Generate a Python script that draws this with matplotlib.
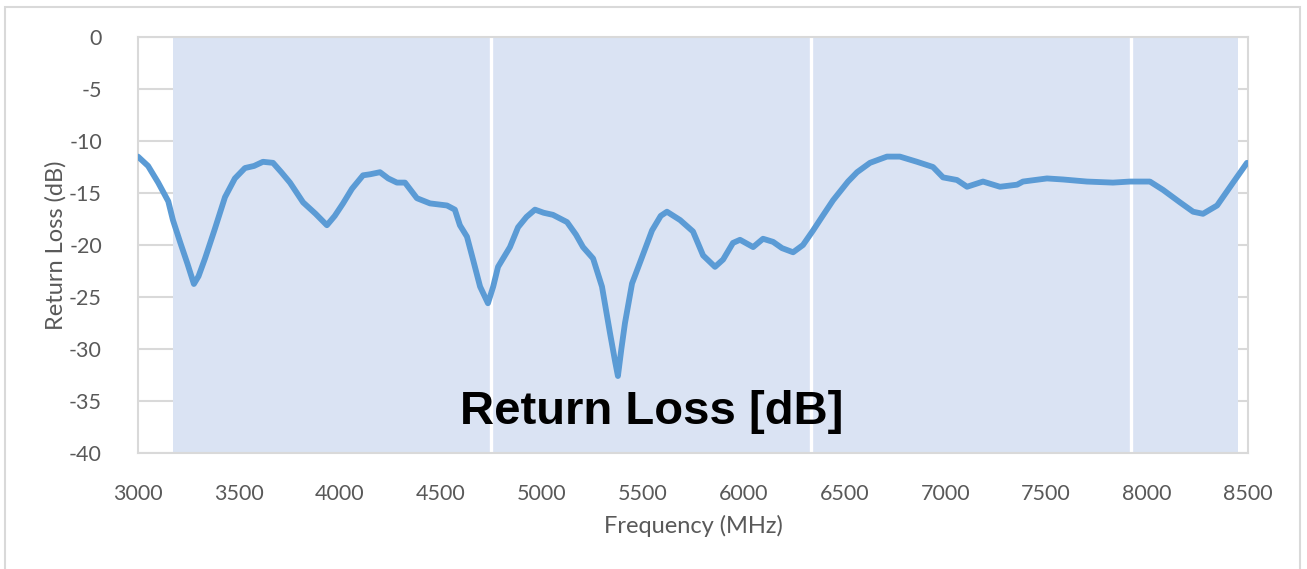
import matplotlib.pyplot as plt
from matplotlib.patches import Rectangle

# frequency (MHz) and return loss (dB)
freq = [3000, 3050, 3100, 3150, 3173, 3210, 3245, 3277, 3300, 3332, 3380,
        3431, 3480, 3530, 3575, 3619, 3669, 3710, 3753, 3818, 3880, 3936,
        3975, 4016, 4060, 4115, 4150, 4199, 4240, 4283, 4323, 4382, 4447,
        4531, 4570, 4595, 4630, 4660, 4695, 4734, 4760, 4784, 4843, 4883,
        4925, 4967, 5010, 5056, 5126, 5170, 5205, 5255, 5299, 5339, 5365,
        5378, 5395, 5413, 5448, 5487, 5547, 5590, 5621, 5686, 5750, 5800,
        5859, 5899, 5948, 5983, 6048, 6097, 6147, 6191, 6246, 6295, 6345,
        6389, 6444, 6518, 6563, 6627, 6711, 6775, 6860, 6939, 6989, 7058,
        7108, 7187, 7271, 7356, 7385, 7504, 7583, 7702, 7831, 7915, 8014,
        8079, 8163, 8228, 8277, 8347, 8426, 8495]
rl = [-11.5, -12.4, -14.0, -15.8, -17.6, -19.8, -21.8, -23.75, -23.0, -21.3,
      -18.5, -15.4, -13.6, -12.6, -12.4, -12.0, -12.1, -13.0, -14.0, -15.9,
      -17.0, -18.1, -17.2, -16.0, -14.6, -13.3, -13.2, -13.0, -13.6, -14.0,
      -14.0, -15.5, -16.0, -16.2, -16.6, -18.1, -19.2, -21.4, -24.0, -25.6,
      -24.0, -22.1, -20.2, -18.3, -17.3, -16.6, -16.9, -17.1, -17.8, -19.0,
      -20.2, -21.3, -24.0, -28.5, -31.3, -32.6, -30.0, -27.5, -23.7, -21.7,
      -18.6, -17.2, -16.8, -17.6, -18.7, -21.0, -22.1, -21.4, -19.8, -19.5,
      -20.2, -19.4, -19.7, -20.3, -20.7, -20.0, -18.6, -17.3, -15.7, -13.9,
      -13.0, -12.1, -11.5, -11.5, -12.0, -12.5, -13.5, -13.75, -14.4, -13.9,
      -14.4, -14.2, -13.9, -13.6, -13.7, -13.9, -14.0, -13.9, -13.9, -14.7,
      -15.9, -16.8, -17.0, -16.2, -14.0, -12.1]

band_start = 3173
band_end = 8450
band_edges = [4749, 6335, 7920]

xticks = list(range(3000, 8501, 500))
yticks = list(range(-40, 1, 5))

plt.rcParams['font.family'] = ['Lato', 'DejaVu Sans']
plt.rcParams['axes.unicode_minus'] = False

fig = plt.figure(figsize=(13.07, 5.69), dpi=100)
fig.patches.append(Rectangle((5 / 1307, -0.1), 1295 / 1307, 1.1 - 7 / 569,
                             transform=fig.transFigure, fill=False,
                             edgecolor='#d9d9d9', linewidth=1.5))
ax = fig.add_axes([138 / 1307, 1 - 453 / 569, 1110 / 1307, 416 / 569])

ax.axvspan(band_start, band_end, color='#dae3f3', zorder=1, lw=0)
for e in band_edges:
    ax.axvline(e, color='white', lw=2.4, zorder=1.5)
ax.plot(freq, rl, color='#5b9bd5', lw=4.2, zorder=3, solid_capstyle='round',
        solid_joinstyle='round')

ax.set_xlim(3000, 8500)
ax.set_ylim(-40, 0)
ax.set_xticks(xticks)
ax.set_yticks(yticks)
ax.set_axisbelow(True)
ax.grid(axis='y', color='#d9d9d9', lw=1.5)
for s in ax.spines.values():
    s.set_color('#d9d9d9')
    s.set_linewidth(1.5)
ax.tick_params(length=0, labelsize=15.5, labelcolor='#595959')
ax.tick_params(axis='y', pad=26)
ax.tick_params(axis='x', pad=22)

ax.set_xlabel('Frequency (MHz)', fontsize=17, color='#595959', labelpad=8)
ax.set_ylabel('Return Loss (dB)', fontsize=17, color='#595959')
ax.yaxis.set_label_coords(-(138 - 67) / 1110, 0.5)

ax.text(5547, -36.1, 'Return Loss [dB]', ha='center', va='center',
        fontsize=34, fontweight='bold', family='Liberation Sans',
        color='black', zorder=4)

fig.savefig('out.png', dpi=100)
